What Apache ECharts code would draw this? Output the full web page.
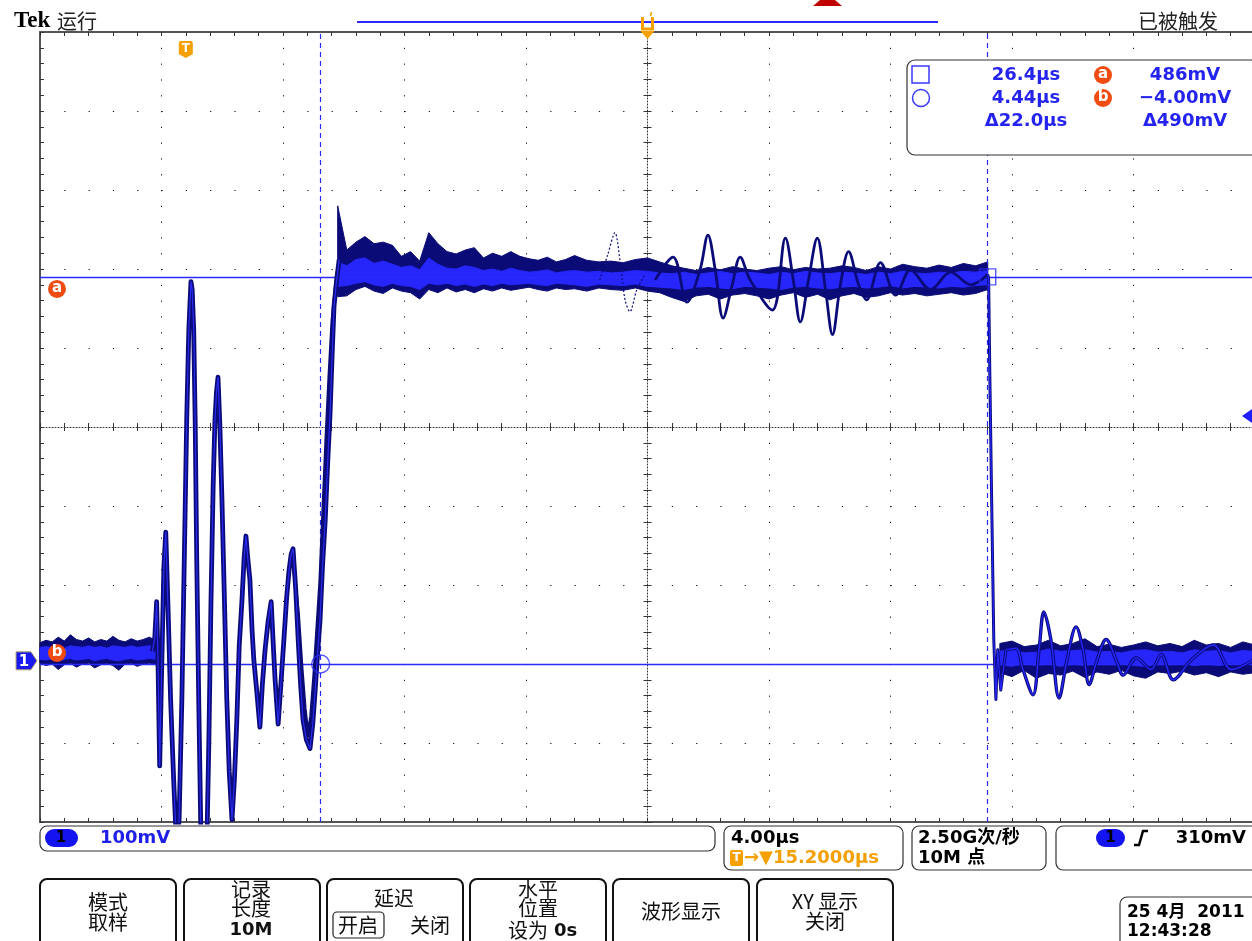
<!DOCTYPE html>
<html><head><meta charset="utf-8">
<script src="https://cdn.jsdelivr.net/npm/echarts@6/dist/echarts.min.js"></script>
<style>html,body{margin:0;padding:0;background:#fff;overflow:hidden}#c{width:1252px;height:941px}</style>
</head><body><div id="c"></div>
<script>
// ---- axis ranges (µs, mV) ----
const X_MIN = -4.8, X_MAX = 35.2;
const Y_MIN = -204, Y_MAX = 796;
// ---- cursors / trigger ----
const cursorT = [26.4, 4.44];
const cursorV = [486, -4.00];
const trigLevel = 310;
const trigT = 0;
const centerT = 15.2;
const timeReadout = ['26.4µs', '4.44µs', 'Δ22.0µs'];
const voltReadout = ['486mV', '−4.00mV', 'Δ490mV'];

// ---- baseline noise band (before the burst) ----
const baseT    = [-4.8,-4.6,-4.4,-4.2,-4.0,-3.8,-3.6,-3.4,-3.2,-3.0,-2.8,-2.6,-2.4,-2.2,-2.0,-1.8,-1.6,-1.4,-1.2,-1.0];
const baseHi   = [23,26,24,30,25,33,27,25,29,24,27,25,31,26,24,28,25,27,30,26];
const baseLo   = [-3,-6,-4,-11,-5,-3,-8,-4,-3,-9,-5,-3,-6,-12,-4,-3,-7,-4,-3,-5];
const baseInHi = [17,18,17,19,16,19,18,17,19,17,18,16,19,18,17,19,17,18,19,18];
const baseInLo = [2,1,3,0,2,3,1,2,3,0,2,3,1,0,2,3,1,2,3,2];

// ---- plateau noise band ----
const platT = [5.0,5.3,5.6,5.9,6.2,6.5,6.8,7.1,7.4,7.7,8.0,8.3,8.6,8.9,9.2,9.5,9.8,10.1,10.4,10.7,11.0,11.3,11.6,11.9,12.2,12.5,
  12.8,13.2,13.6,14.0,14.4,14.8,15.2,15.6,16.0,16.4,16.8,17.2,17.6,18.0,18.4,18.8,19.2,19.6,20.0,20.4,20.8,21.2,21.6,22.0,22.4,22.8,23.2,23.6,24.0,24.4,24.8,25.2,25.6,26.0,26.4];
const platHi = [576,520,530,537,528,530,526,512,518,506,542,528,518,515,520,523,510,516,512,518,512,509,507,511,505,508,
  513,507,505,506,504,508,510,505,500,497,494,498,495,499,496,494,497,499,495,498,496,497,500,498,494,499,496,502,499,497,501,498,503,500,505];
const platLo = [461,462,470,474,468,465,472,468,466,458,470,466,472,467,470,466,471,468,472,469,471,473,470,468,472,470,
  471,468,472,470,469,472,468,466,460,455,462,464,458,463,465,462,458,463,466,460,464,457,462,465,460,462,466,463,465,462,464,466,463,465,470];
const platInHi = [505,500,508,510,503,506,502,498,500,495,510,502,497,496,500,498,494,496,493,497,494,492,493,495,491,493,
  494,492,493,491,492,494,493,491,490,492,489,491,493,490,492,491,489,492,490,493,491,490,492,491,489,492,490,493,491,490,492,491,493,492,494];
const platInLo = [474,475,478,480,476,474,478,475,474,470,478,476,478,475,477,474,477,475,478,476,477,478,476,475,478,477,
  476,474,477,476,475,477,474,473,472,470,473,474,472,471,474,473,472,470,473,474,472,471,473,474,472,473,475,472,474,473,472,474,473,475,477];

// ---- after the falling edge ----
const postT    = [26.8,27.2,27.6,28.0,28.4,28.8,29.2,29.6,30.0,30.4,30.8,31.2,31.6,32.0,32.4,32.8,33.2,33.6,34.0,34.4,34.8,35.2];
const postHi   = [22,25,18,20,26,19,22,28,18,21,17,20,24,19,22,18,26,20,22,17,24,20];
const postLo   = [-15,-20,-12,-22,-16,-18,-13,-21,-14,-17,-12,-19,-22,-14,-16,-13,-18,-15,-20,-14,-17,-15];
const postInHi = [12,14,10,11,15,12,13,14,11,12,10,13,14,11,12,10,14,12,13,10,13,12];
const postInLo = [-5,-7,-3,-6,-4,-7,-4,-6,-3,-5,-4,-6,-7,-4,-5,-3,-6,-4,-6,-3,-5,-4];

// ---- ringing burst and rising edge ----
const ringT = [-1.10,-1.02,-0.96,-0.92,-0.86,-0.80,-0.72,-0.66,-0.58,-0.50,-0.40,-0.30,-0.22,-0.13,-0.04,0.03,0.10,0.17,0.21,0.26,0.31,0.36,0.43,0.50,0.60,0.69,0.76,0.83,0.90,0.96,1.01,1.06,1.12,1.19,1.27,1.35,1.43,1.52,1.60,1.68,1.76,1.85,1.92,1.98,2.04,2.11,2.18,2.24,2.34,2.44,2.52,2.61,2.71,2.81,2.88,2.94,3.04,3.13,3.23,3.32,3.40,3.47,3.53,3.62,3.70,3.78,3.86,3.97,4.09,4.18,4.26,4.34,4.42,4.50,4.59,4.67,4.75,4.82,4.88,4.96,5.05];
const ringV = [12,30,75,10,-133,-20,120,163,60,-49,-150,-239,-200,-49,150,305,420,480,470,419,300,128,-60,-227,-260,-239,-100,77,220,305,340,359,300,204,80,-49,-140,-201,-150,-75,20,77,130,158,130,103,40,1,-40,-84,-30,14,50,75,20,-24,-80,-30,27,80,115,135,142,90,27,-30,-75,-100,-111,-80,-37,10,52,120,178,250,314,390,449,480,508];
// a second acquisition overlapping the last ring and the rising edge
const ring2T = [3.55,3.70,3.82,3.92,4.02,4.12,4.22,4.32,4.42,4.52,4.62,4.72,4.82,4.92,5.02];
const ring2V = [120,60,-10,-60,-95,-70,-20,40,100,190,280,360,430,470,500];

// ---- oscillating acquisitions on the plateau ----
const oscT = [15.45,16.04,16.50,16.93,17.19,17.43,17.69,17.99,18.25,18.58,19.31,19.74,20.0,20.23,20.50,20.79,21.06,21.29,21.55,21.82,22.15,22.41,22.87,23.37,23.86,24.52,25.18,25.84,26.40];
const oscV = [482,511,454,495,539,495,434,476,511,482,444,535,482,429,482,535,470,413,476,518,476,457,504,463,495,470,492,476,489];
const exT = [13.63,13.89,14.13,14.29,14.46,14.62,14.85,15.12];
const exV = [482,514,542,508,457,442,470,489];

// ---- falling edge ----
const fallT = [26.40,26.43,26.47,26.53,26.60,26.67,26.73,26.83,27.0];
const fallV = [489,485,362,204,27,-49,14,-37,14];
// ---- ringing after the falling edge ----
const postOscT = [27.0,27.33,27.56,27.89,28.09,28.25,28.48,28.75,29.01,29.31,29.54,29.74,30.0,30.30,30.63,30.86,31.29,31.78,32.11,32.51,33.10,33.83,34.42,35.15];
const postOscV = [14,16,-11,-43,14,62,27,-47,1,43,14,-30,1,27,1,-18,4,-11,8,-24,1,20,-11,1];

const NAVY = '#0b0b78', BRIGHT = '#2626fb', CUR = '#2a2aff', ORANGE = '#f5a000', REDO = '#f04c12';
const DX = 4, DY = 3;

function pairs(T, V) { return T.map((t, i) => [t, V[i]]); }
// filled band between lo and hi, drawn through the axes' scales
function band(T, lo, hi, color, z) {
  return {
    type: 'custom', xAxisIndex: DX, yAxisIndex: DY, silent: true, z: z,
    data: T.map((t, i) => [t, lo[i], hi[i]]),
    encode: { x: 0, y: [1, 2] },
    renderItem: function (params, api) {
      if (params.dataIndex !== 0) return null;
      const top = T.map((t, i) => api.coord([t, hi[i]]));
      const bot = T.map((t, i) => api.coord([t, lo[i]])).reverse();
      return { type: 'polygon', shape: { points: top.concat(bot) }, style: { fill: color, stroke: color, lineWidth: 1 } };
    }
  };
}
function trace(T, V, color, width, z, dash, smooth) {
  return { type: 'line', xAxisIndex: DX, yAxisIndex: DY, data: pairs(T, V), symbol: 'none', silent: true, z: z,
    smooth: smooth || false,
    lineStyle: { color: color, width: width, type: dash || 'solid', join: 'round' } };
}

const tickStyle = { color: '#333', width: 1 };
const divBase = {
  type: 'value', min: -5, max: 5, interval: 1,
  axisLabel: { show: false }, splitLine: { show: false },
  axisTick: { show: true, inside: true, length: 4, lineStyle: tickStyle },
  minorTick: { show: true, splitNumber: 5, length: 4, lineStyle: tickStyle }
};

const option = {
  animation: false,
  backgroundColor: '#ffffff',
  grid: { left: 40, top: 32, width: 1215, height: 790, containLabel: false, outerBoundsMode: 'none' },
  xAxis: [
    Object.assign({}, divBase, { position: 'bottom', axisLine: { show: true, onZero: false, lineStyle: { color: '#555', width: 2 } },
      splitLine: { show: true, lineStyle: { color: '#111', width: 1, type: [1.2, 14.6] } } }),
    Object.assign({}, divBase, { position: 'top', axisLine: { show: true, onZero: false, lineStyle: { color: '#555', width: 2 } } }),
    Object.assign({}, divBase, { position: 'bottom', axisLine: { show: true, onZero: true, onZeroAxisIndex: 0, lineStyle: { color: '#333', width: 1, type: [1, 2] } } }),
    Object.assign({}, divBase, { position: 'bottom', axisLine: { show: false, onZero: true, onZeroAxisIndex: 0 },
      axisTick: { show: true, inside: false, length: 4, lineStyle: tickStyle } }),
    { type: 'value', show: false, min: X_MIN, max: X_MAX, axisLine: { onZero: false } }
  ],
  yAxis: [
    Object.assign({}, divBase, { position: 'left', axisLine: { show: true, onZero: false, lineStyle: { color: '#555', width: 2 } },
      splitLine: { show: true, lineStyle: { color: '#111', width: 1, type: [1.2, 23.1] } } }),
    Object.assign({}, divBase, { position: 'left', axisLine: { show: true, onZero: true, onZeroAxisIndex: 2, lineStyle: { color: '#333', width: 1, type: [1, 2] } } }),
    Object.assign({}, divBase, { position: 'left', axisLine: { show: false, onZero: true, onZeroAxisIndex: 2 },
      axisTick: { show: true, inside: false, length: 4, lineStyle: tickStyle } }),
    { type: 'value', show: false, min: Y_MIN, max: Y_MAX, axisLine: { onZero: false } }
  ],
  series: [
    band(baseT, baseLo, baseHi, NAVY, 3),
    band(platT, platLo, platHi, NAVY, 3),
    band(postT, postLo, postHi, NAVY, 3),
    band(baseT, baseInLo, baseInHi, BRIGHT, 4),
    band(platT, platInLo, platInHi, BRIGHT, 4),
    band(postT, postInLo, postInHi, BRIGHT, 4),
    trace(exT, exV, NAVY, 1.2, 5, [2, 2], 0.3),
    trace(oscT, oscV, NAVY, 2.8, 5, null, 0.35),
    trace(postOscT, postOscV, NAVY, 3.4, 5, null, 0.35),
    trace(postOscT, postOscV, BRIGHT, 1.4, 6, null, 0.35),
    trace(fallT, fallV, NAVY, 3.0, 6),
    trace(fallT, fallV, BRIGHT, 1.2, 6),
    trace(ring2T, ring2V, NAVY, 3.4, 6),
    trace(ringT, ringV, NAVY, 4.8, 6),
    trace(ringT, ringV, '#2b2bf0', 1.2, 7),
    { type: 'line', xAxisIndex: DX, yAxisIndex: DY, data: [[cursorT[0], cursorV[0]]], symbol: 'none', silent: true, z: 8,
      markLine: { silent: true, symbol: 'none', label: { show: false }, animation: false,
        data: [
          { xAxis: cursorT[0], lineStyle: { color: CUR, width: 1.2, type: [5, 4], opacity: 1 } },
          { xAxis: cursorT[1], lineStyle: { color: CUR, width: 1.2, type: [5, 4], opacity: 1 } },
          { yAxis: cursorV[0], lineStyle: { color: CUR, width: 1.3, type: 'solid', opacity: 1 } },
          { yAxis: cursorV[1], lineStyle: { color: CUR, width: 1.3, type: 'solid', opacity: 1 } }
        ] } },
    { type: 'scatter', xAxisIndex: DX, yAxisIndex: DY, silent: true, z: 9,
      data: [
        { value: [cursorT[0], cursorV[0]], symbol: 'rect', symbolSize: 16 },
        { value: [cursorT[1], cursorV[1]], symbol: 'circle', symbolSize: 18 }
      ],
      itemStyle: { color: 'rgba(0,0,0,0)', borderColor: CUR, borderWidth: 1.4 } }
  ]
};

const chart = echarts.init(document.getElementById('c'));
chart.setOption(option);

const P = (t, v) => chart.convertToPixel({ xAxisIndex: DX, yAxisIndex: DY }, [t, v]);
const SANSB = (s) => 'bold ' + s + 'px "DejaVu Sans", "Noto Sans CJK SC"';
const CJK = (s) => s + 'px "Noto Sans CJK SC"';
function txt(x, y, text, font, fill, align) {
  return { type: 'text', x: x, y: y, z: 102, silent: true,
    style: { text: text, font: font, fill: fill || '#111', align: align || 'left', verticalAlign: 'middle' } };
}
function box(x, y, w, h, r, extra) {
  return { type: 'rect', z: 100, silent: true, shape: { x: x, y: y, width: w, height: h, r: r },
    style: Object.assign({ fill: '#fff', stroke: '#333', lineWidth: 1.2 }, extra || {}) };
}
function circ(cx, cy, r, style) { return { type: 'circle', z: 101, silent: true, shape: { cx: cx, cy: cy, r: r }, style: style }; }
function poly(points, style, z) { return { type: 'polygon', z: z || 101, silent: true, shape: { points: points }, style: style }; }
function pline(points, style, z) { return { type: 'polyline', z: z || 101, silent: true, shape: { points: points }, style: style }; }

const xTrig = P(trigT, 0)[0];
const xCenter = P(centerT, 0)[0];
const y0 = P(0, 0)[1];
const yA = P(0, cursorV[0])[1];
const yB = P(0, cursorV[1])[1];
const yTL = P(0, trigLevel)[1];

const g = [];
// header
g.push(txt(14, 21, 'Tek', 'bold 23px "Liberation Serif"', '#000'));
g.push(txt(57, 21, '运行', CJK(20), '#222'));
g.push(txt(1138, 21, '已被触发', CJK(20), '#222'));
g.push(pline([[357, 22], [938, 22]], { stroke: '#2a2aff', lineWidth: 2 }));
g.push(poly([[813, 6], [842, 6], [835, 0], [820, 0]], { fill: '#c00000' }));
// expansion point marker
g.push(pline([[xCenter - 5, 17], [xCenter - 5, 29], [xCenter + 5, 29], [xCenter + 5, 17]], { stroke: ORANGE, lineWidth: 3, fill: null }));
g.push(pline([[xCenter + 4, 12], [xCenter + 3, 16]], { stroke: ORANGE, lineWidth: 1.5, fill: null }));
g.push(poly([[xCenter - 7, 31], [xCenter + 7, 31], [xCenter, 39]], { fill: ORANGE }));
// trigger T marker
g.push(poly([[xTrig - 6, 41], [xTrig + 6, 41], [xTrig + 7, 43], [xTrig + 7, 54], [xTrig, 58], [xTrig - 7, 54], [xTrig - 7, 43]], { fill: ORANGE }));
g.push(txt(xTrig, 49, 'T', 'bold 12px "DejaVu Sans"', '#fff', 'center'));
// ground marker "1"
g.push(poly([[16, y0 - 9], [31, y0 - 9], [37, y0], [31, y0 + 9], [16, y0 + 9]], { fill: '#1a1aee', stroke: '#b8a868', lineWidth: 1 }));
g.push(txt(24, y0 + 1, '1', 'bold 15px "DejaVu Sans"', '#fff', 'center'));
// a / b cursor tags
g.push(circ(57, yA + 12, 9, { fill: REDO }));
g.push(txt(57, yA + 11, 'a', 'bold 15px "DejaVu Sans"', '#fff', 'center'));
g.push(circ(57, yB - 11, 9, { fill: REDO }));
g.push(txt(57, yB - 12, 'b', 'bold 15px "DejaVu Sans"', '#fff', 'center'));
// trigger level arrow
g.push(poly([[1242, yTL], [1252, yTL - 7], [1252, yTL + 7]], { fill: '#2020ff' }));

// cursor readout box
g.push(box(907, 60, 352, 95, 8));
g.push({ type: 'rect', z: 101, silent: true, shape: { x: 912, y: 66, width: 17, height: 17 }, style: { fill: null, stroke: '#3a3aff', lineWidth: 1.5 } });
g.push(circ(921, 98, 8.5, { fill: null, stroke: '#3a3aff', lineWidth: 1.5 }));
const rowY = [75, 98, 121];
for (let i = 0; i < 3; i++) {
  g.push(txt(1026, rowY[i], timeReadout[i], SANSB(18), '#2424ee', 'center'));
  g.push(txt(1185, rowY[i], voltReadout[i], SANSB(18), '#2424ee', 'center'));
}
g.push(circ(1103, 75, 9, { fill: REDO }));
g.push(txt(1103, 74, 'a', 'bold 15px "DejaVu Sans"', '#fff', 'center'));
g.push(circ(1103, 98, 9, { fill: REDO }));
g.push(txt(1103, 97, 'b', 'bold 15px "DejaVu Sans"', '#fff', 'center'));

// status bar
g.push(box(40, 826, 675, 25, 7));
g.push({ type: 'rect', z: 101, silent: true, shape: { x: 45, y: 829, width: 33, height: 18, r: 9 }, style: { fill: '#1414f0' } });
g.push(txt(61, 838, '1', 'bold 15px "DejaVu Sans"', '#000', 'center'));
g.push(txt(100, 838, '100mV', SANSB(18), '#1f1fe8'));
g.push(box(724, 826, 179, 44, 7));
g.push(txt(731, 838, '4.00µs', SANSB(18), '#000'));
g.push({ type: 'rect', z: 101, silent: true, shape: { x: 730, y: 850, width: 13, height: 16, r: 2 }, style: { fill: ORANGE } });
g.push(txt(736.5, 858, 'T', 'bold 12px "DejaVu Sans"', '#fff', 'center'));
g.push(txt(744, 858, '→▼15.2000µs', SANSB(18), ORANGE));
g.push(box(912, 826, 134, 44, 7));
g.push(txt(918, 838, '2.50G次/秒', SANSB(18), '#000'));
g.push(txt(918, 858, '10M 点', SANSB(18), '#000'));
g.push(box(1056, 826, 210, 44, 7));
g.push({ type: 'rect', z: 101, silent: true, shape: { x: 1096, y: 829, width: 29, height: 18, r: 9 }, style: { fill: '#1414f0' } });
g.push(txt(1110.5, 838, '1', 'bold 15px "DejaVu Sans"', '#000', 'center'));
g.push(pline([[1134, 845], [1139, 845], [1143, 831], [1148, 831]], { stroke: '#000', lineWidth: 2.5, fill: null }));
g.push(txt(1246, 838, '310mV', SANSB(18), '#000', 'right'));

// menu buttons
const btnX = [40, 184, 327, 470, 613, 757];
btnX.forEach(function (x) {
  g.push(box(x, 879, 136, 75, [7, 7, 0, 0], { stroke: '#111', lineWidth: 2 }));
});
g.push(txt(108, 902, '模式', CJK(20), '#111', 'center'));
g.push(txt(108, 922, '取样', CJK(20), '#111', 'center'));
g.push(txt(251, 889, '记录', CJK(20), '#111', 'center'));
g.push(txt(251, 908, '长度', CJK(20), '#111', 'center'));
g.push(txt(251, 930, '10M', SANSB(18), '#111', 'center'));
g.push(txt(394, 898, '延迟', CJK(20), '#111', 'center'));
g.push(box(333, 912, 51, 26, 4, { stroke: '#222', lineWidth: 1.2 }));
g.push(txt(358, 925, '开启', CJK(20), '#111', 'center'));
g.push(txt(430, 925, '关闭', CJK(20), '#111', 'center'));
g.push(txt(538, 889, '水平', CJK(20), '#111', 'center'));
g.push(txt(538, 908, '位置', CJK(20), '#111', 'center'));
g.push(txt(548, 930, '设为', CJK(20), '#111', 'right'));
g.push(txt(554, 931, '0s', SANSB(18), '#111', 'left'));
g.push(txt(681, 911, '波形显示', CJK(20), '#111', 'center'));
g.push(txt(825, 901, 'XY 显示', CJK(20), '#111', 'center'));
g.push(txt(825, 921, '关闭', CJK(20), '#111', 'center'));
// date box
g.push(box(1120, 897, 140, 55, 7));
g.push(txt(1127, 913, '25 4月  2011', SANSB(17), '#000'));
g.push(txt(1127, 932, '12:43:28', SANSB(17), '#000'));

chart.setOption({ graphic: g });
</script></body></html>
